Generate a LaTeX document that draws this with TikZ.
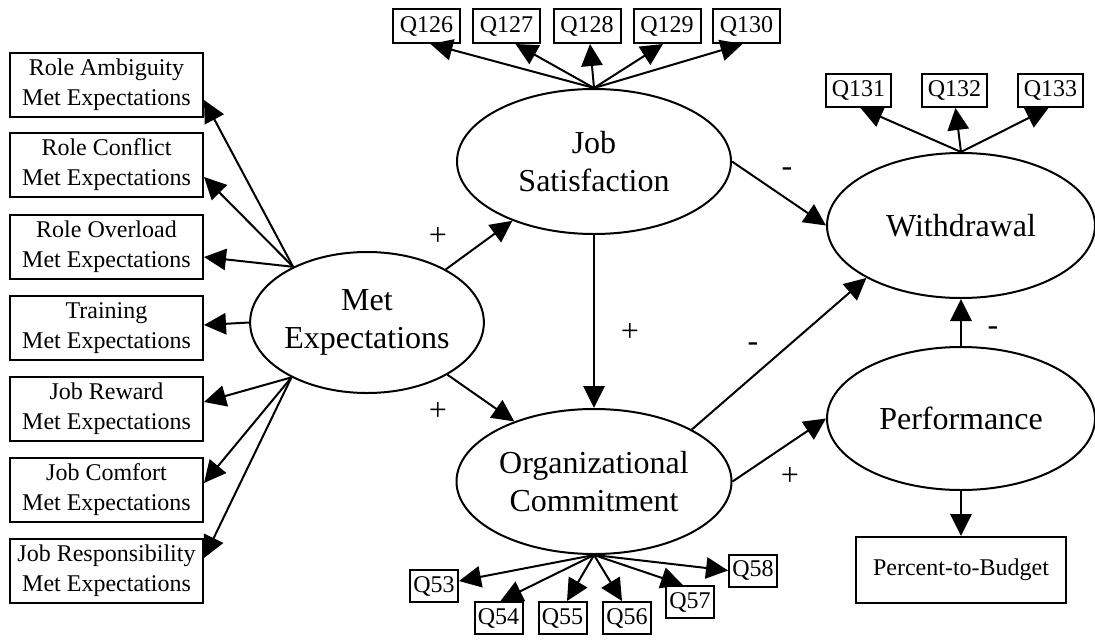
\documentclass[tikz,border=0pt]{standalone}
\usepackage{fontspec}
\setmainfont{Liberation Serif}
\usetikzlibrary{arrows.meta,shapes.geometric,calc}

\tikzset{
  small/.style={font=\fontsize{18}{22.5}\selectfont},
  big/.style={font=\fontsize{24}{28}\selectfont},
  indicator/.style={draw, rectangle, small, align=center, inner sep=0pt,
    minimum width=144.75pt, minimum height=48pt},
  qbox/.style={draw, rectangle, small, inner sep=0pt,
    minimum width=50.25pt, minimum height=25.5pt},
  qboxw/.style={draw, rectangle, small, inner sep=0pt,
    minimum width=48.75pt, minimum height=24.75pt},
  qboxs/.style={draw, rectangle, small, inner sep=0pt,
    minimum width=36pt, minimum height=24pt},
  latent/.style={draw, ellipse, big, align=center, inner sep=0pt},
  sign/.style={big, inner sep=0pt},
  link/.style={-{Triangle[length=16.5pt,width=16pt]}, line width=1.5pt},
}

\begin{document}
\begin{tikzpicture}[x=0.75pt, y=-0.75pt, line width=1.5pt]
\useasboundingbox (0,0) rectangle (1095,639);

% met-expectation indicators
\node[indicator] (b1) at (106.5,85)    {Role Ambiguity\\Met Expectations};
\node[indicator] (b2) at (106.5,165)   {Role Conflict\\Met Expectations};
\node[indicator] (b3) at (106.5,246.5) {Role Overload\\Met Expectations};
\node[indicator] (b4) at (106.5,328)   {Training\\Met Expectations};
\node[indicator] (b5) at (106.5,409)   {Job Reward\\Met Expectations};
\node[indicator] (b6) at (106.5,490)   {Job Comfort\\Met Expectations};
\node[indicator] (b7) at (106.5,570.5) {Job Responsibility\\Met Expectations};

% latent constructs
\node[latent, minimum width=154.5pt,  minimum height=105.75pt] (me)   at (367,322.5) {Met\\Expectations};
\node[latent, minimum width=205.5pt,  minimum height=108.75pt] (js)   at (594,161.5) {Job\\Satisfaction};
\node[latent, minimum width=206.25pt, minimum height=108.75pt] (oc)   at (594,481.5) {Organizational\\Commitment};
\node[latent, minimum width=201pt,    minimum height=108.75pt] (w)    at (961,225.5) {Withdrawal};
\node[latent, minimum width=201pt,    minimum height=107.25pt] (perf) at (961,418.5) {Performance};

\node[draw, rectangle, small, inner sep=0pt, minimum width=157.5pt, minimum height=49.5pt]
  (ptb) at (961,570) {Percent-to-Budget};

% job satisfaction items
\node[qbox] (q126) at (426.5,26) {Q126};
\node[qbox] (q127) at (506.5,26) {Q127};
\node[qbox] (q128) at (587,26)   {Q128};
\node[qbox] (q129) at (667,26)   {Q129};
\node[qbox] (q130) at (746.5,26) {Q130};

% withdrawal items
\node[qboxw] (q131) at (858.5,90.5)  {Q131};
\node[qboxw] (q132) at (954.5,90.5)  {Q132};
\node[qboxw] (q133) at (1050.5,90.5) {Q133};

% organizational commitment items
\node[qboxs] (q53) at (434,586)   {Q53};
\node[qboxs] (q54) at (498.5,618) {Q54};
\node[qboxs] (q55) at (562.5,618) {Q55};
\node[qboxs] (q56) at (627,618)   {Q56};
\node[qboxs] (q57) at (690,602)   {Q57};
\node[qboxs] (q58) at (753,570.5) {Q58};

% loadings of met expectations
\draw[link] (me.143) -- ($(b1.east)+(0,15)$);
\draw[link] (me.143) -- ($(b2.east)+(0,12)$);
\draw[link] (me.143) -- ($(b3.east)+(0,10.5)$);
\draw[link] (me.180) -- ($(b4.east)+(0,-3)$);
\draw[link] (me.216) -- ($(b5.east)+(0,-7)$);
\draw[link] (me.216) -- ($(b6.east)+(0,-7)$);
\draw[link] (me.216) -- ($(b7.east)+(0,-12.5)$);

% loadings of job satisfaction
\draw[link] (js.north) -- ($(q126.south)+(4,0)$);
\draw[link] (js.north) -- ($(q127.south)+(9,0)$);
\draw[link] (js.north) -- ($(q128.south)+(3,0)$);
\draw[link] (js.north) -- ($(q129.south)+(-4,0)$);
\draw[link] (js.north) -- ($(q130.south)+(-4,0)$);

% loadings of withdrawal
\draw[link] (w.north) -- ($(q131.south)+(2,0)$);
\draw[link] (w.north) -- ($(q132.south)+(1,0)$);
\draw[link] (w.north) -- ($(q133.south)+(-2,0)$);

% loadings of organizational commitment
\draw[link] (oc.south) -- ($(q53.east)+(0,-5)$);
\draw[link] (oc.south) -- ($(q54.north)+(2,0)$);
\draw[link] (oc.south) -- ($(q55.north)+(4.5,0)$);
\draw[link] (oc.south) -- ($(q56.north)+(-5,0)$);
\draw[link] (oc.south) -- ($(q57.north)+(-7,0)$);
\draw[link] (oc.south) -- (q58.west);

% structural paths
\draw[link] (me.34)  -- (js.216);
\draw[link] (me.-33) -- (oc.143);
\draw[link] (js.south) -- (oc.north);
\draw[link] (js.east) -- (w.west);
\draw[link] (oc.28) -- (w.209);
\draw[link] (oc.east) -- (perf.west);
\draw[link] (perf.north) -- (w.south);
\draw[link] (perf.south) -- (ptb.north);

% path signs
\node[sign] (s1) at (438,236) {+};
\node[sign] (s2) at (438,411) {+};
\node[sign] (s3) at (630,332) {+};
\node[sign] (s4) at (787,172) {-};
\node[sign] (s5) at (753,347) {-};
\node[sign] (s6) at (790,476) {+};
\node[sign] (s7) at (993,331) {-};
\end{tikzpicture}
\end{document}
